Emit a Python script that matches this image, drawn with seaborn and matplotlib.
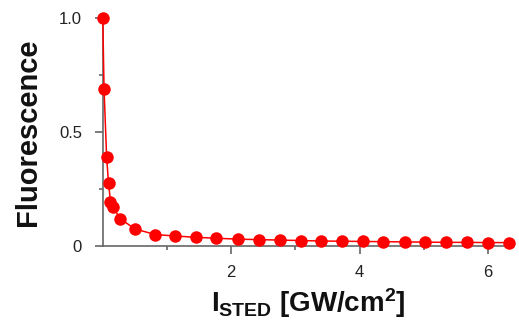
import matplotlib
matplotlib.use("Agg")
import matplotlib.pyplot as plt
import seaborn as sns
import pandas as pd

# Data
intensity = [0, 0.02, 0.06, 0.09, 0.12, 0.16, 0.27, 0.5, 0.82, 1.13, 1.45, 1.77,
             2.11, 2.43, 2.76, 3.08, 3.4, 3.72, 4.05, 4.37, 4.7, 5.02, 5.35,
             5.67, 6.0, 6.32]
fluorescence = [1.0, 0.69, 0.39, 0.275, 0.195, 0.17, 0.12, 0.075, 0.05, 0.044,
                0.038, 0.034, 0.03, 0.028, 0.026, 0.024, 0.022, 0.021, 0.02,
                0.019, 0.018, 0.017, 0.016, 0.016, 0.015, 0.015]
xticks = [2, 4, 6]
xtick_labels = ["2", "4", "6"]
yticks = [0, 0.5, 1.0]
ytick_labels = ["0", "0.5", "1.0"]

sns.set_theme(style="ticks")
plt.rcParams["font.family"] = ["Liberation Sans", "DejaVu Sans"]
plt.rcParams["mathtext.fontset"] = "custom"
plt.rcParams["mathtext.rm"] = "Liberation Sans"
plt.rcParams["mathtext.bf"] = "Liberation Sans:bold"
plt.rcParams["mathtext.it"] = "Liberation Sans:italic"

df = pd.DataFrame({"x": intensity, "y": fluorescence})

fig = plt.figure(figsize=(5.19, 3.32), dpi=100)
ax = fig.add_axes([0.198, 0.259, 0.792, 0.687])

sns.lineplot(data=df, x="x", y="y", ax=ax, color="#ff0000", lw=1.1,
             marker="o", markersize=9, markeredgewidth=0, sort=False,
             clip_on=False, zorder=5)

ax.set_xlim(0, 6.4)
ax.set_ylim(0, 1.0)
ax.set_xticks(xticks)
ax.set_xticklabels(xtick_labels)
ax.set_xticks([1, 3, 5], minor=True)
ax.set_yticks(yticks)
ax.set_yticklabels(ytick_labels)
ax.set_yticks([0.25, 0.75], minor=True)

for s in ["top", "right"]:
    ax.spines[s].set_visible(False)
for s in ["left", "bottom"]:
    ax.spines[s].set_color("#666666")
    ax.spines[s].set_linewidth(1.2)

ax.tick_params(axis="both", which="major", length=6, width=1.2, color="#666666",
               labelsize=12, labelcolor="#222222")
ax.tick_params(axis="x", which="major", pad=8)
ax.tick_params(axis="y", which="major", pad=9)
ax.tick_params(axis="both", which="minor", length=3, width=1.2, color="#666666")

ax.set_ylabel("Fluorescence", fontsize=21, fontweight="bold", color="#111111",
              labelpad=12)
ax.set_xlabel(r"I$_{\mathbf{STED}}$ [GW/cm$^{\mathbf{2}}$]", fontsize=20,
              fontweight="bold", color="#111111", labelpad=4)

fig.savefig("out.png", dpi=100)
